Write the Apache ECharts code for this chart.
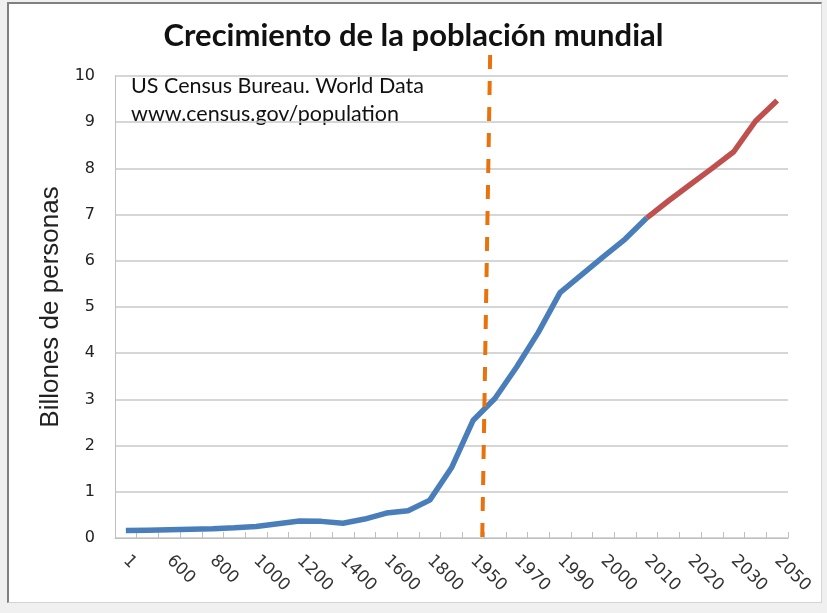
<!DOCTYPE html>
<html>
<head>
<meta charset="UTF-8">
<script src="https://cdn.jsdelivr.net/npm/echarts@6/dist/echarts.min.js"></script>
<style>
  body { margin: 0; background: #f0f0f0; }
  #frame {
    position: absolute; left: 7px; top: 2px; width: 812px; height: 598px;
    background: #fff;
    border-left: 2px solid #808080; border-top: 2px solid #808080;
    border-right: 1px solid #d4d4d4; border-bottom: 1px solid #d4d4d4;
  }
  #chart { position: absolute; left: 0; top: 0; width: 827px; height: 613px; }
</style>
</head>
<body>
<div id="frame"></div>
<div id="chart"></div>
<script type="text/javascript">
// Years on the category axis (only every other one is labelled).
const years = ['1', '500', '600', '700', '800', '900', '1000', '1100', '1200', '1300',
               '1400', '1500', '1600', '1700', '1800', '1900', '1950', '1960', '1970', '1980',
               '1990', '1995', '2000', '2005', '2010', '2015', '2020', '2025', '2030', '2040', '2050'];

// World population, billions.
const population = [0.16, 0.17, 0.18, 0.19, 0.2, 0.22, 0.25, 0.31, 0.37, 0.36,
                    0.32, 0.41, 0.54, 0.59, 0.82, 1.52, 2.55, 3.02, 3.7, 4.45,
                    5.31, 5.7, 6.09, 6.47, 6.93, 7.3, 7.65, 8.0, 8.36, 9.02, 9.47];

// Projection starts at 2010.
const projectionStart = years.indexOf('2010');

// The dashed marker around 1950 (category position, top -> bottom).
const markerTop = [17.28, 1];
const markerBottom = [16.91, 0];

const yTicks = { min: 0, max: 10, interval: 1 };

const observed = population.map((v, i) => i <= projectionStart ? v : null);
const projected = population.map((v, i) => i >= projectionStart ? v : null);

const chart = echarts.init(document.getElementById('chart'));

const option = {
    animation: false,
    title: {
        text: 'Crecimiento de la población mundial',
        left: 'center',
        top: 15,
        textStyle: { fontFamily: 'Lato', fontWeight: 'bold', fontSize: 31, color: '#111' }
    },
    grid: [
        { left: 115, right: 39, top: 76, bottom: 75 },
        // wider area used only by the dashed marker, which runs past the plot
        { left: 115, right: 39, top: 55, bottom: 68 }
    ],
    xAxis: [
        {
            type: 'category',
            data: years,
            boundaryGap: true,
            axisLine: { lineStyle: { color: '#bfbfbf', width: 1 } },
            axisTick: { show: true, inside: true, length: 6, interval: 0, lineStyle: { color: '#bfbfbf' } },
            axisLabel: {
                interval: 1,
                rotate: -45,
                margin: 20,
                fontFamily: 'DejaVu Sans',
                fontSize: 17,
                color: '#333'
            },
            splitLine: { show: false }
        },
        { type: 'value', gridIndex: 1, min: 0, max: years.length, show: false }
    ],
    yAxis: [
        {
            type: 'value',
            min: yTicks.min,
            max: yTicks.max,
            interval: yTicks.interval,
            name: 'Billones de personas',
            nameLocation: 'middle',
            nameGap: 46,
            nameTextStyle: { fontFamily: 'Liberation Sans', fontSize: 26, color: '#222' },
            axisLine: { show: true, lineStyle: { color: '#bfbfbf' } },
            axisTick: { show: false },
            axisLabel: { margin: 20, fontFamily: 'DejaVu Sans', fontSize: 16, color: '#222' },
            splitLine: { lineStyle: { color: '#c8c8c8', width: 1.5 } }
        },
        { type: 'value', gridIndex: 1, min: 0, max: 1, show: false }
    ],
    graphic: [
        {
            type: 'text',
            left: 131,
            top: 72,
            style: {
                text: 'US Census Bureau. World Data\nwww.census.gov/population',
                font: '21.5px Lato',
                lineHeight: 28,
                fill: '#111'
            }
        }
    ],
    series: [
        {
            name: 'Observada',
            type: 'line',
            data: observed,
            symbol: 'none',
            lineStyle: { color: '#4a7ebb', width: 5.5 },
            z: 3
        },
        {
            name: 'Proyección',
            type: 'line',
            data: projected,
            symbol: 'none',
            lineStyle: { color: '#c0504d', width: 5.5 },
            z: 3
        },
        {
            name: '1950',
            type: 'line',
            xAxisIndex: 1,
            yAxisIndex: 1,
            data: [],
            z: 4,
            markLine: {
                silent: true,
                symbol: 'none',
                label: { show: false },
                lineStyle: { color: '#e8720c', width: 4, type: [14, 12] },
                data: [[{ coord: markerTop }, { coord: markerBottom }]]
            }
        }
    ]
};

chart.setOption(option);
</script>
</body>
</html>
